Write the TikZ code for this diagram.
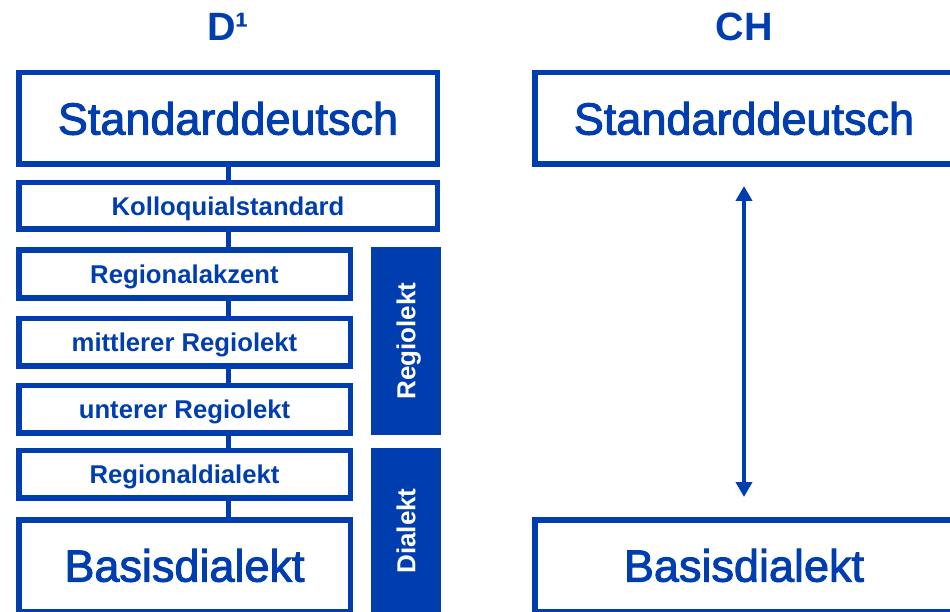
\documentclass[tikz,border=0pt]{standalone}
\usepackage{fontspec}
\setmainfont{Liberation Sans}
\newfontfamily\medfont[FakeBold=2.2]{Liberation Sans}
\usetikzlibrary{arrows.meta}
\definecolor{dblue}{RGB}{0,62,176}

\begin{document}
\begin{tikzpicture}[x=1pt,y=-1pt,
	box/.style={draw=dblue, line width=5.5pt, text=dblue, inner sep=0pt, text depth=0pt},
	bigbox/.style={box, minimum width=418.5pt, minimum height=91.5pt, text height=32.2pt,
		font=\medfont\fontsize{45}{50}\selectfont},
	widebox/.style={box, minimum width=418.5pt, minimum height=46.5pt, text height=18.4pt,
		font=\bfseries\fontsize{25.7}{30}\selectfont},
	smallbox/.style={box, minimum width=331.5pt, minimum height=47.5pt, text height=18.4pt,
		font=\bfseries\fontsize{25.7}{30}\selectfont},
	bar/.style={fill=dblue, text=white, rotate=90, inner sep=0pt,
		minimum height=70pt, text height=18.6pt, text depth=0pt,
		font=\bfseries\fontsize{26}{30}\selectfont},
	link/.style={draw=dblue, line width=5pt},
	title/.style={text=dblue, anchor=base, font=\bfseries\fontsize{39.5}{46}\selectfont}]
	
	\useasboundingbox (0,0) rectangle (950,612);
	\clip (0,0) rectangle (950,612);
	
	% D
	\node[title] (tD) at (228,41) {D¹};
	\node[bigbox] (std) at (228,118.5) {Standarddeutsch};
	\node[widebox] (koll) at (228,206) {Kolloquialstandard};
	\node[smallbox] (ra) at (184.5,274) {Regionalakzent};
	\node[smallbox] (mr) at (184.5,342) {mittlerer Regiolekt};
	\node[smallbox] (ur) at (184.5,409) {unterer Regiolekt};
	\node[smallbox] (rd) at (184.5,474) {Regionaldialekt};
	\node[bigbox, minimum width=331.5pt] (bd) at (184.5,565.5) {Basisdialekt};
	\node[bar, minimum width=188pt] (regio) at (406,341) {Regiolekt};
	\node[bar, minimum width=166pt] (dial) at (406,531) {Dialekt};
	
	\draw[link] (std.south) -- (koll.north);
	\draw[link] (koll.south) -- (koll.south |- ra.north);
	\draw[link] (koll.south |- ra.south) -- (koll.south |- mr.north);
	\draw[link] (koll.south |- mr.south) -- (koll.south |- ur.north);
	\draw[link] (koll.south |- ur.south) -- (koll.south |- rd.north);
	\draw[link] (koll.south |- rd.south) -- (koll.south |- bd.north);
	
	% CH
	\node[title] (tCH) at (744,41) {CH};
	\node[bigbox] (std2) at (744,118.5) {Standarddeutsch};
	\node[bigbox] (bd2) at (744,565.5) {Basisdialekt};
	\draw[dblue, line width=4.5pt, {Triangle[width=16pt,length=15pt]}-{Triangle[width=16pt,length=15pt]},
		shorten <=19pt, shorten >=20pt] (std2.south) -- (bd2.north);
	
\end{tikzpicture}
\end{document}
